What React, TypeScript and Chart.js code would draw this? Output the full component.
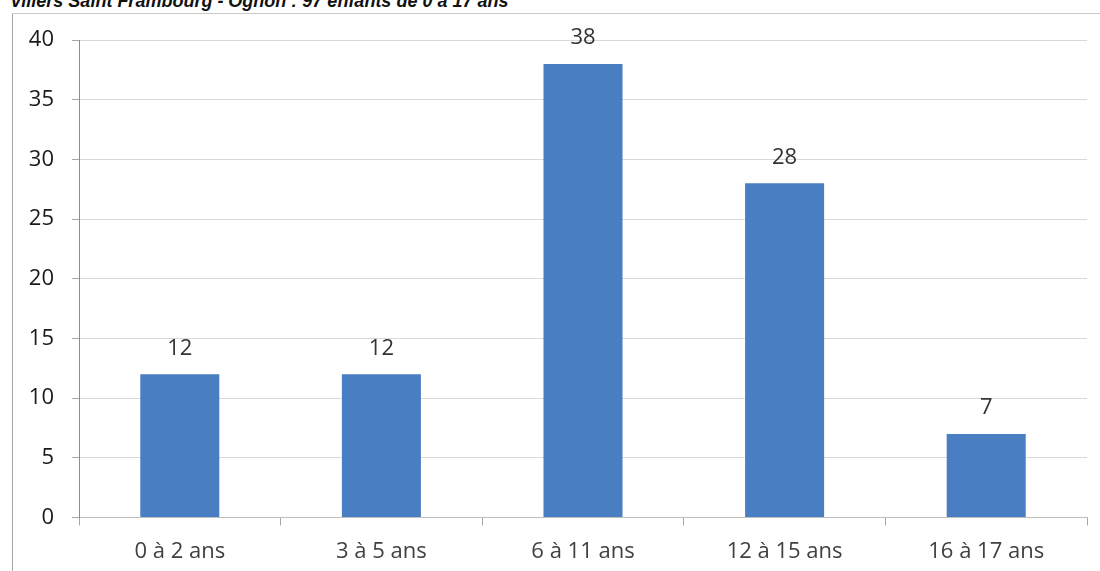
import React, { useEffect, useRef } from "react";
import { Chart, registerables } from "chart.js";

Chart.register(...registerables);

const TITLE = "Villers Saint Frambourg - Ognon : 97 enfants de 0 à 17 ans";
const categories = ["0 à 2 ans", "3 à 5 ans", "6 à 11 ans", "12 à 15 ans", "16 à 17 ans"];
const values = [12, 12, 38, 28, 7];
const yTicks = [0, 5, 10, 15, 20, 25, 30, 35, 40];

const BAR_COLOR = "#4a7ec2";
const FONT = "'Open Sans', 'DejaVu Sans', sans-serif";

const valueLabels = {
  id: "valueLabels",
  afterDatasetsDraw(chart: any) {
    const ctx = chart.ctx;
    const meta = chart.getDatasetMeta(0);
    ctx.save();
    ctx.font = `22px ${FONT}`;
    ctx.fillStyle = "#333333";
    ctx.textAlign = "center";
    ctx.textBaseline = "middle";
    meta.data.forEach((el: any, i: number) => {
      const v = chart.data.datasets[0].data[i];
      ctx.fillText(String(v), el.x, el.y - 26);
    });
    ctx.restore();
  },
};

export default function App() {
  const ref = useRef<HTMLCanvasElement | null>(null);

  useEffect(() => {
    if (!ref.current) return;
    const chart = new Chart(ref.current, {
      type: "bar",
      data: {
        labels: categories,
        datasets: [
          {
            data: values,
            backgroundColor: BAR_COLOR,
            borderWidth: 0,
            barPercentage: 0.392,
            categoryPercentage: 1,
          },
        ],
      },
      plugins: [valueLabels],
      options: {
        animation: false,
        responsive: false,
        maintainAspectRatio: false,
        devicePixelRatio: 1,
        layout: { padding: { left: 0, right: 13, top: 26, bottom: 0 } },
        plugins: {
          legend: { display: false },
          title: { display: false },
          tooltip: { enabled: false },
        },
        scales: {
          x: {
            grid: {
              display: true,
              drawOnChartArea: false,
              drawTicks: true,
              tickLength: 8,
              color: "#a6a6a6",
              offset: true,
            },
            border: { display: true, color: "#bfbfbf", width: 1 },
            ticks: {
              color: "#404040",
              font: { family: FONT, size: 22 },
              padding: 13,
              maxRotation: 0,
              autoSkip: false,
            },
            afterFit(scale: any) {
              scale.height = 53.5;
            },
          },
          y: {
            min: 0,
            max: 40,
            afterBuildTicks(scale: any) {
              scale.ticks = yTicks.map((v) => ({ value: v }));
            },
            grid: {
              color: "#d9d9d9",
              drawTicks: true,
              tickLength: 7,
              tickColor: "#a6a6a6",
            },
            border: { display: true, color: "#8c8c8c", width: 1 },
            ticks: {
              color: "#1a1a1a",
              font: { family: FONT, size: 22 },
              padding: 18,
            },
            afterFit(scale: any) {
              scale.width = 66;
              scale.paddingTop = 13;
              scale.paddingBottom = 13;
            },
          },
        },
      },
    });
    return () => chart.destroy();
  }, []);

  return (
    <div
      style={{
        position: "fixed",
        left: 0,
        top: 0,
        width: 1100,
        height: 571,
        overflow: "hidden",
        background: "#ffffff",
      }}
    >
      <div
        style={{
          position: "absolute",
          left: 10,
          top: -8,
          fontFamily: "'Liberation Sans', Arial, sans-serif",
          fontWeight: "bold",
          fontStyle: "italic",
          fontSize: 18,
          lineHeight: "18px",
          color: "#111111",
          whiteSpace: "nowrap",
        }}
      >
        {TITLE}
      </div>
      <div
        style={{
          position: "absolute",
          left: 12,
          top: 13,
          width: 1088,
          height: 558,
          borderLeft: "1px solid #a6a6a6",
          borderTop: "1px solid #c8c8c8",
          boxSizing: "border-box",
        }}
      >
        <canvas ref={ref} width={1087} height={557} style={{ display: "block" }} />
      </div>
    </div>
  );
}
